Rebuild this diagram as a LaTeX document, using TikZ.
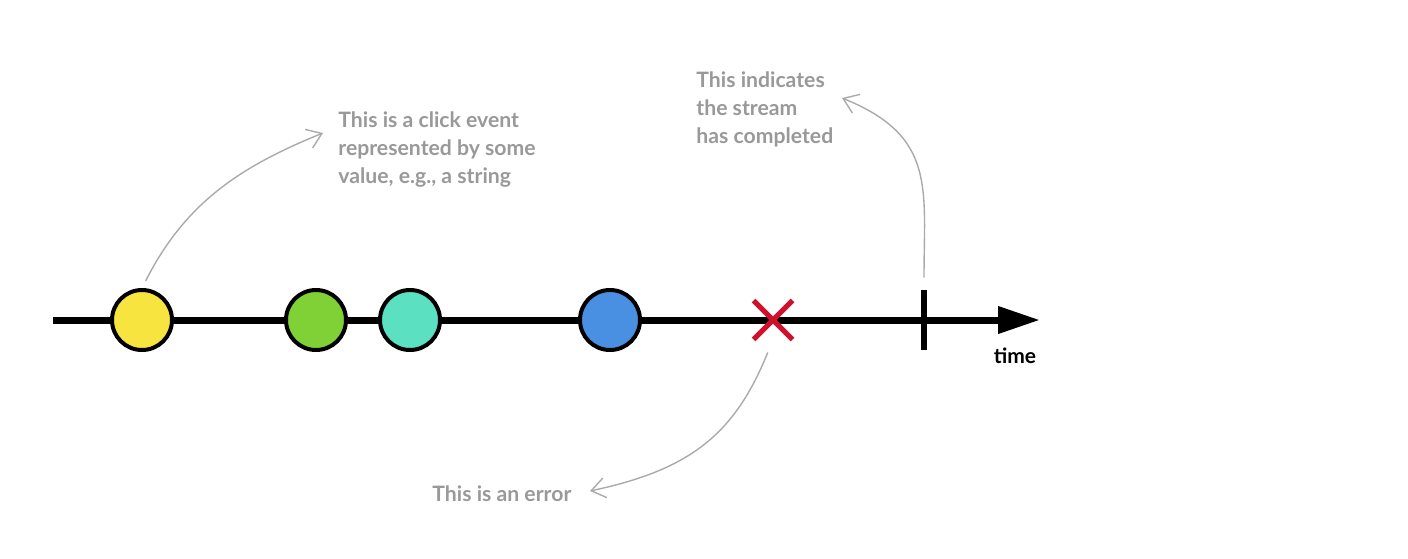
\documentclass[tikz,border=0pt]{standalone}
\usepackage{fontspec}
\setmainfont{Lato}
\usepackage{xcolor}
\usetikzlibrary{arrows.meta,shapes.misc}
\definecolor{note}{HTML}{999999}
\definecolor{line}{HTML}{AAAAAA}
\definecolor{yel}{HTML}{F7E43E}
\definecolor{grn}{HTML}{7FD136}
\definecolor{tea}{HTML}{5BE0C2}
\definecolor{blu}{HTML}{4A90E2}
\definecolor{err}{HTML}{D0112B}
\tikzset{
  ev/.style={circle,draw=black,line width=2pt,minimum size=30pt,inner sep=0pt},
  txt/.style={inner sep=0pt,align=left,text=note,font=\bfseries\fontsize{10.6pt}{14pt}\selectfont},
  note/.style={draw=line,line width=0.7pt,-{Straight Barb[length=7pt,width=10pt]}}
}
\begin{document}
\begin{tikzpicture}[x=0.5pt,y=0.5pt]
\useasboundingbox (0,0) rectangle (1408,-558);
\coordinate(s) at(53,-320);
\coordinate(e) at(1040,-320);
\draw [line width=3.5pt,-{Triangle[length=21pt,width=13pt]}](s)--(e);
\node[ev,fill=yel](1) at(142,-320){};
\node[ev,fill=grn](2) at(316,-320){};
\node[ev,fill=tea](3) at(410,-320){};
\node[ev,fill=blu](4) at(610,-320){};
\node[cross out,draw=err,line width=2.5pt,minimum size=17pt,inner sep=0pt](5) at(773,-320){};
\node[fill=black,inner sep=0pt,minimum width=3pt,minimum height=30pt](6) at(924,-320){};
\node[anchor=north,inner sep=0pt,font=\bfseries\fontsize{10.5pt}{12pt}\selectfont](7) at(1015,-347){time};
\node[txt,anchor=north west](8) at(338,-111){This is a click event\\represented by some\\value, e.g., a string};
\node[txt,anchor=north west](9) at(696,-71){This indicates\\the stream\\has completed};
\node[txt,anchor=west](10) at(432,-494){This is an error};
\coordinate(t1) at(323,-133);
\coordinate(t2) at(842,-98);
\coordinate(t3) at(590,-491);
\draw [note,shorten <=4pt](1.north) to[out=63,in=202] (t1);
\draw [note,shorten <=6pt](6.north) to[out=90,in=-22,looseness=1.25] (t2);
\draw [note,shorten <=7pt](5.south) to[out=-112,in=12,looseness=1.1] (t3);
\end{tikzpicture}
\end{document}
